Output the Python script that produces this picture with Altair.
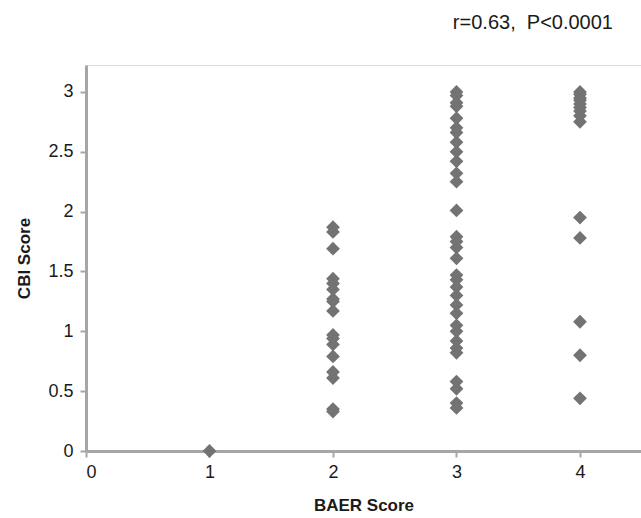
import altair as alt
import pandas as pd

baer_1 = [0.0]
baer_2 = [1.87, 1.83, 1.69, 1.44, 1.40, 1.35, 1.27, 1.25, 1.17, 0.97, 0.94, 0.89,
          0.79, 0.66, 0.61, 0.35, 0.33]
baer_3 = [3.0, 2.97, 2.91, 2.88, 2.78, 2.70, 2.66, 2.58, 2.50, 2.42, 2.32, 2.25,
          2.01, 1.79, 1.75, 1.70, 1.61, 1.47, 1.43, 1.37, 1.30, 1.22, 1.15, 1.05,
          1.00, 0.92, 0.86, 0.82, 0.58, 0.52, 0.40, 0.36]
baer_4 = [3.0, 2.98, 2.95, 2.93, 2.90, 2.87, 2.84, 2.80, 2.75, 1.95, 1.78, 1.08,
          0.80, 0.44]

rows = []
for b, vals in [(1, baer_1), (2, baer_2), (3, baer_3), (4, baer_4)]:
    for v in vals:
        rows.append({"BAER": b, "CBI": v})
df = pd.DataFrame(rows)

FONT = "Liberation Sans"
AXIS_COLOR = "#a6a6a6"
TXT = "#1a1a1a"

common = dict(grid=False, domainColor=AXIS_COLOR, domainWidth=3,
              tickColor=AXIS_COLOR, tickWidth=2, tickSize=6,
              labelFont=FONT, labelFontSize=18, labelColor=TXT,
              titleFont=FONT, titleFontSize=17, titleFontWeight="bold",
              titleColor=TXT)

x_axis = alt.Axis(values=[0, 1, 2, 3, 4], format="d", title="BAER Score",
                  labelPadding=6, titlePadding=16, **common)
y_axis = alt.Axis(values=[0, 0.5, 1, 1.5, 2, 2.5, 3], format="~g",
                  title="CBI Score", labelPadding=7, titlePadding=14, **common)

chart = alt.Chart(df).mark_point(
    shape="diamond", filled=True, color="#737373", opacity=1, size=190
).encode(
    x=alt.X("BAER:Q", scale=alt.Scale(domain=[0, 4.494], nice=False, zero=False), axis=x_axis),
    y=alt.Y("CBI:Q", scale=alt.Scale(domain=[0, 3.225], nice=False), axis=y_axis),
).properties(
    width=555, height=386,
    autosize=alt.AutoSizeParams(type="none"),
    padding={"left": 86, "top": 65, "right": 0, "bottom": 67},
    title=alt.TitleParams("r=0.63,\u00a0\u00a0P<0.0001", anchor="end", font=FONT,
                          fontSize=20, fontWeight="normal", color=TXT,
                          dx=-28, offset=32),
).configure_view(stroke=None).configure(background="white")

chart.save("out.html", embed_options={"renderer": "svg", "actions": False})
